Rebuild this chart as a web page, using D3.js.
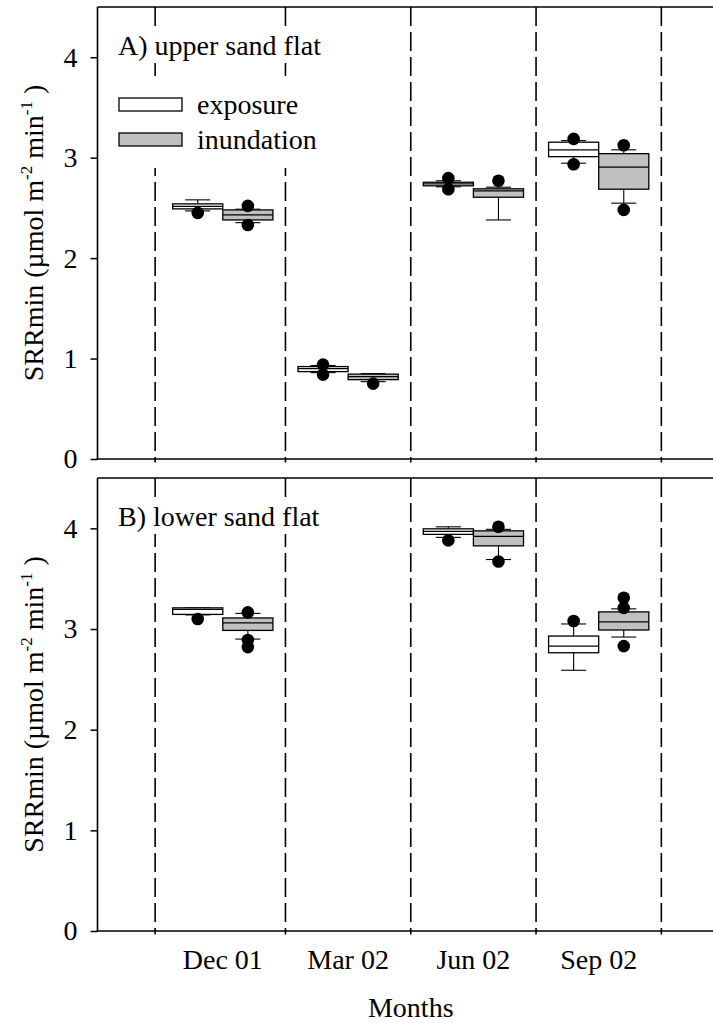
<!DOCTYPE html>
<html>
<head>
<meta charset="utf-8">
<script src="https://cdn.jsdelivr.net/npm/d3@7"></script>
<style>
  body { margin: 0; background: #fff; }
  svg { display: block; }
  text { font-family: "Liberation Serif", "Times New Roman", serif; fill: #000; }
</style>
</head>
<body>
<svg id="chart" width="713" height="1023"></svg>
<script>
// ---- data ---------------------------------------------------------------
const months = ["Dec 01", "Mar 02", "Jun 02", "Sep 02"];
const monthPos = [1, 2, 3, 4];
const dividerPos = [0.46, 1.5, 2.5, 3.5, 4.5];
const yTicks = [0, 1, 2, 3, 4];
const seriesNames = ["exposure", "inundation"];

// box statistics per month: [low whisker, Q1, median, Q3, high whisker]
const upperExposure = [
  [2.47, 2.49, 2.515, 2.54, 2.58],
  [0.86, 0.87, 0.90, 0.92, 0.93],
  [2.71, 2.72, 2.74, 2.755, 2.77],
  [2.945, 3.01, 3.078, 3.154, 3.17]
];
const upperExposureOutliers = [[2.45], [0.94, 0.84], [2.796, 2.686], [3.187, 2.935]];

const upperInundation = [
  [2.353, 2.38, 2.43, 2.48, 2.487],
  [0.77, 0.79, 0.82, 0.845, 0.85],
  [2.38, 2.606, 2.67, 2.69, 2.706],
  [2.547, 2.686, 2.905, 3.04, 3.078]
];
const upperInundationOutliers = [[2.52, 2.33], [0.75], [2.77], [3.124, 2.48]];

const lowerExposure = [
  [3.14, 3.145, 3.195, 3.21, 3.21],
  null,
  [3.91, 3.94, 3.97, 3.995, 4.015],
  [2.59, 2.764, 2.83, 2.93, 3.05]
];
const lowerExposureOutliers = [[3.1], [], [3.88], [3.08]];

const lowerInundation = [
  [2.9, 2.986, 3.06, 3.11, 3.155],
  null,
  [3.69, 3.826, 3.92, 3.975, 3.99],
  [2.92, 2.99, 3.07, 3.17, 3.2]
];
const lowerInundationOutliers = [[3.165, 2.89, 2.82], [], [4.015, 3.67], [3.31, 3.21, 2.83]];

// ---- layout -------------------------------------------------------------
const svg = d3.select("#chart");
const W = 713;
const x = d3.scaleLinear().domain([0, 5]).range([97.5, 724]);
const boxW = 0.4;     // box width in x units
const capW = 0.2;     // whisker cap width in x units
const fills = { exposure: "#ffffff", inundation: "#c0c0c0" };
const fontSize = 28;

function drawPanel(cfg) {
  const y = d3.scaleLinear().domain([0, 4.5]).range([cfg.bottom, cfg.top]);
  const g = svg.append("g");

  // vertical dashed month dividers
  g.selectAll("line.divider").data(dividerPos).join("line")
    .attr("x1", d => x(d)).attr("x2", d => x(d))
    .attr("y1", y(4.5)).attr("y2", y(0) + 3.5)
    .attr("stroke", "#000").attr("stroke-width", 1.6)
    .attr("stroke-dasharray", "19,6");

  // white backing behind the panel title and legend
  const labelLayer = g.append("g");

  // y axis
  const yAxis = d3.axisLeft(y).tickValues(yTicks).tickFormat(d3.format("d"))
    .tickSize(7).tickPadding(13);
  const ya = g.append("g").attr("transform", `translate(${x(0)},0)`).call(yAxis);
  ya.select(".domain").remove();
  ya.selectAll(".tick line").attr("stroke", "#000").attr("stroke-width", 1.5);
  ya.selectAll(".tick text").attr("font-size", fontSize)
    .attr("font-family", "Liberation Serif, Times New Roman, serif").attr("fill", "#000");

  // frame: left, top, bottom
  g.append("line").attr("x1", x(0)).attr("x2", x(0)).attr("y1", y(4.5)).attr("y2", y(0))
    .attr("stroke", "#000").attr("stroke-width", 1.6);
  g.append("line").attr("x1", x(0)).attr("x2", W).attr("y1", y(4.5)).attr("y2", y(4.5))
    .attr("stroke", "#000").attr("stroke-width", 1.6);
  g.append("line").attr("x1", x(0) - 0.8).attr("x2", W).attr("y1", y(0)).attr("y2", y(0))
    .attr("stroke", "#000").attr("stroke-width", 1.6);

  // boxes for both series
  const series = [
    { name: "exposure", stats: cfg.exposure, out: cfg.exposureOut, off: -boxW },
    { name: "inundation", stats: cfg.inundation, out: cfg.inundationOut, off: 0 }
  ];
  series.forEach(s => {
    const data = monthPos.map((p, i) => ({ p, st: s.stats[i], out: s.out[i] }))
      .filter(d => d.st);
    const bg = g.append("g");
    data.forEach(d => {
      const x0 = d.p + s.off, x1 = x0 + boxW, cx = x0 + boxW / 2;
      const [lo, q1, med, q3, hi] = d.st;
      // whiskers
      bg.append("line").attr("x1", x(cx)).attr("x2", x(cx)).attr("y1", y(lo)).attr("y2", y(q1))
        .attr("stroke", "#000").attr("stroke-width", 1.1);
      bg.append("line").attr("x1", x(cx)).attr("x2", x(cx)).attr("y1", y(q3)).attr("y2", y(hi))
        .attr("stroke", "#000").attr("stroke-width", 1.1);
      // caps
      [lo, hi].forEach(v => bg.append("line")
        .attr("x1", x(cx - capW / 2)).attr("x2", x(cx + capW / 2))
        .attr("y1", y(v)).attr("y2", y(v))
        .attr("stroke", "#000").attr("stroke-width", 1.1));
      // box
      bg.append("rect").attr("x", x(x0)).attr("width", x(x1) - x(x0))
        .attr("y", y(q3)).attr("height", y(q1) - y(q3))
        .attr("fill", fills[s.name]).attr("stroke", "#000").attr("stroke-width", 1.3);
      // median
      bg.append("line").attr("x1", x(x0)).attr("x2", x(x1)).attr("y1", y(med)).attr("y2", y(med))
        .attr("stroke", "#000").attr("stroke-width", 1.3);
    });
    // outliers
    data.forEach(d => {
      const cx = d.p + s.off + boxW / 2;
      bg.selectAll(null).data(d.out).join("circle")
        .attr("cx", x(cx)).attr("cy", v => y(v)).attr("r", 6.3).attr("fill", "#000");
    });
  });

  // panel title
  const title = labelLayer.append("text").attr("x", 118).attr("y", cfg.titleY)
    .attr("font-size", fontSize).text(cfg.title);
  const tb = title.node().getBBox();
  labelLayer.insert("rect", "text").attr("x", tb.x - 3).attr("y", tb.y - 2)
    .attr("width", tb.width + 6).attr("height", tb.height + 4).attr("fill", "#fff");

  // legend
  if (cfg.legend) {
    const lg = labelLayer.append("g");
    lg.append("rect").attr("x", 112).attr("y", 82).attr("width", 222).attr("height", 86)
      .attr("fill", "#fff");
    seriesNames.forEach((n, i) => {
      lg.append("rect").attr("x", 119).attr("y", 98 + i * 35).attr("width", 63).attr("height", 13)
        .attr("fill", fills[n]).attr("stroke", "#000").attr("stroke-width", 1.3);
      lg.append("text").attr("x", 197).attr("y", 114 + i * 35).attr("font-size", fontSize).text(n);
    });
  }

  // y axis title
  const yl = g.append("text")
    .attr("transform", `translate(43,${(cfg.top + cfg.bottom) / 2}) rotate(-90)`)
    .attr("text-anchor", "middle").attr("font-size", fontSize);
  yl.append("tspan").text("SRRmin (µmol m");
  yl.append("tspan").attr("dy", -11).attr("font-size", 17).text("-2");
  yl.append("tspan").attr("dy", 11).text(" min");
  yl.append("tspan").attr("dy", -11).attr("font-size", 17).text("-1");
  yl.append("tspan").attr("dy", 11).text(" )");

  return y;
}

drawPanel({
  top: 7, bottom: 459, title: "A) upper sand flat", titleY: 55, legend: true,
  exposure: upperExposure, exposureOut: upperExposureOutliers,
  inundation: upperInundation, inundationOut: upperInundationOutliers
});
drawPanel({
  top: 478, bottom: 931, title: "B) lower sand flat", titleY: 526, legend: false,
  exposure: lowerExposure, exposureOut: lowerExposureOutliers,
  inundation: lowerInundation, inundationOut: lowerInundationOutliers
});

// month labels and x axis title
svg.append("g").selectAll("text").data(months).join("text")
  .attr("x", (d, i) => x(monthPos[i])).attr("y", 969)
  .attr("text-anchor", "middle").attr("font-size", fontSize).text(d => d);
svg.append("text").attr("x", x(2.5)).attr("y", 1017)
  .attr("text-anchor", "middle").attr("font-size", fontSize).text("Months");
</script>
</body>
</html>
